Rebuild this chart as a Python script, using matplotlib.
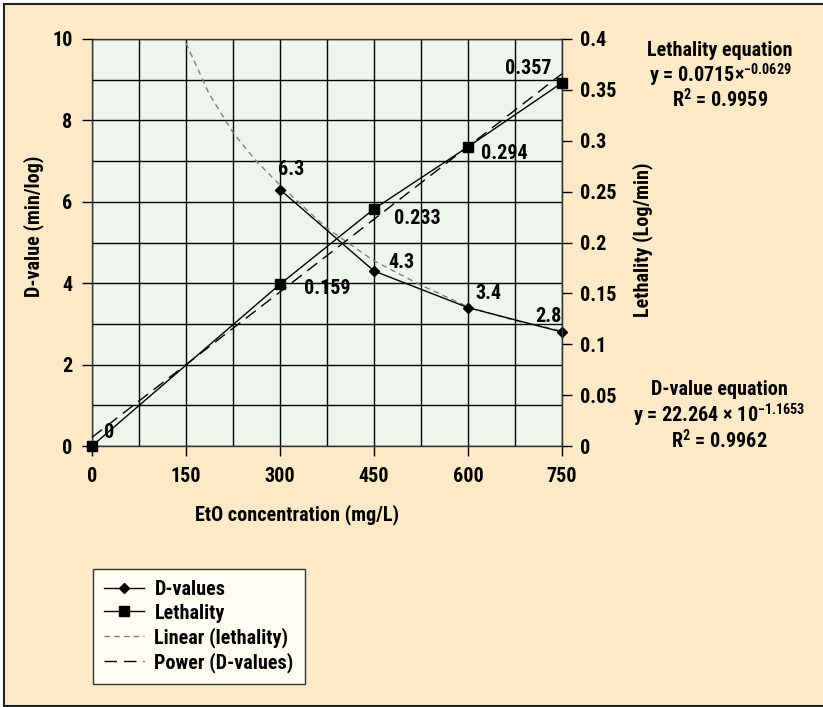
# EtO concentration vs D-value / lethality
import numpy as np
import matplotlib
matplotlib.use('Agg')
import matplotlib.pyplot as plt
from matplotlib.lines import Line2D
from matplotlib.patches import Rectangle

plt.rcParams['font.family'] = ['Roboto Condensed', 'Liberation Sans Narrow', 'Liberation Sans', 'DejaVu Sans']
plt.rcParams['font.weight'] = 'bold'
plt.rcParams['mathtext.fontset'] = 'custom'
plt.rcParams['mathtext.rm'] = 'Roboto Condensed:bold'
plt.rcParams['mathtext.bf'] = 'Roboto Condensed:bold'
plt.rcParams['mathtext.default'] = 'rm'

# data
conc_d = [300, 450, 600, 750]
d_values = [6.3, 4.3, 3.4, 2.8]
d_labels = ['6.3', '4.3', '3.4', '2.8']

conc_leth = [0, 300, 450, 600, 750]
lethality = [0, 0.159, 0.233, 0.294, 0.357]
leth_labels = ['0', '0.159', '0.233', '0.294', '0.357']

# trend curve through D-values
trend_x = [150, 187, 225, 262, 300, 375, 450, 525, 600, 675, 750]
trend_y = [9.9, 8.65, 7.7, 7.0, 6.41, 5.35, 4.55, 3.95, 3.42, 3.08, 2.83]

bg = '#FCE9C7'
plot_bg = '#EEF5EC'
fs = 14.5

W, H = 823, 707
fig = plt.figure(figsize=(W / 100, H / 100), dpi=100, facecolor='white')
fig.patches.append(Rectangle((4 / W, 1.5 / H), 1.2, (H - 5.5) / H, transform=fig.transFigure,
                             facecolor=bg, edgecolor='#222222', linewidth=1.5, zorder=-10))

def px(x, y):
    return x / W, 1 - y / H

l, r, t, b = 92, 562, 39, 446
ax = fig.add_axes([l / W, 1 - b / H, (r - l) / W, (b - t) / H])
ax.set_facecolor(plot_bg)
ax.set_xlim(0, 750)
ax.set_ylim(0, 10)
ax.set_xticks(np.arange(0, 751, 150))
ax.set_xticks(np.arange(0, 751, 75), minor=True)
ax.set_yticks(np.arange(0, 11, 2))
ax.set_yticks(np.arange(0, 11, 1), minor=True)
ax.grid(which='both', color='black', linewidth=1.0)
ax.set_axisbelow(True)
ax.tick_params(which='major', length=7, width=1, labelsize=fs, direction='out')
ax.tick_params(axis='y', pad=7)
ax.tick_params(axis='x', pad=8)
ax.tick_params(which='minor', length=0)
for s in ax.spines.values():
    s.set_color('#333333')
    s.set_linewidth(1.0)

# D-values and trend
ax.plot(trend_x, trend_y, color='#808080', linewidth=1.0, dashes=(4, 3), zorder=3, clip_on=False)
ax.plot(conc_d, d_values, color='black', linewidth=1.0, marker='D', markersize=5.5, zorder=4, clip_on=False)
d_offsets = [(-2, 20), (14, 8), (7, 14), (-27, 16)]
for x, y, lab, off in zip(conc_d, d_values, d_labels, d_offsets):
    ax.annotate(lab, (x, y), xytext=off, textcoords='offset pixels', ha='left', va='center',
                fontsize=fs, fontweight='bold')

# lethality on right axis
ax2 = ax.twinx()
ax2.set_ylim(0, 0.4)
ax2.set_yticks(np.arange(0, 0.401, 0.05))
ax2.set_yticklabels(['0', '0.05', '0.1', '0.15', '0.2', '0.25', '0.3', '0.35', '0.4'])
ax2.tick_params(length=7, width=1, labelsize=fs, pad=6)
for s in ax2.spines.values():
    s.set_visible(False)
ax2.spines['right'].set_visible(True)
ax2.spines['right'].set_color('#333333')

coef = np.polyfit(conc_leth, lethality, 1)
fit_x = np.array([0, 750])
ax2.plot(fit_x, np.polyval(coef, fit_x), color='black', linewidth=1.0, dashes=(9, 5), zorder=3, clip_on=False)
ax2.plot(conc_leth, lethality, color='black', linewidth=1.0, marker='s', markersize=7.5, zorder=4, clip_on=False)
l_offsets = [(12, 13), (24, -4), (20, -10), (13, -7), (-57, 14)]
for x, y, lab, off in zip(conc_leth, lethality, leth_labels, l_offsets):
    ax2.annotate(lab, (x, y), xytext=off, textcoords='offset pixels', ha='left', va='center',
                 fontsize=fs, fontweight='bold')

# axis titles
fig.text(*px(297, 515), 'EtO concentration (mg/L)', ha='center', va='center', fontsize=fs)
fig.text(*px(34, 226), 'D-value (min/log)', ha='center', va='center', rotation=90, fontsize=fs)
fig.text(*px(643, 240), 'Lethality (Log/min)', ha='center', va='center', rotation=90, fontsize=fs)

# equations
fig.text(*px(720, 50), 'Lethality equation', ha='center', va='center', fontsize=fs)
fig.text(*px(720, 75), r'y = 0.0715$\times^{-0.0629}$', ha='center', va='center', fontsize=fs)
fig.text(*px(720, 100), r'R$^{2}$ = 0.9959', ha='center', va='center', fontsize=fs)
fig.text(*px(719, 390), 'D-value equation', ha='center', va='center', fontsize=fs)
fig.text(*px(719, 415), r'y = 22.264 $\times$ 10$^{-1.1653}$', ha='center', va='center', fontsize=fs)
fig.text(*px(719, 441), r'R$^{2}$ = 0.9962', ha='center', va='center', fontsize=fs)

# legend
handles = [
    Line2D([], [], color='black', linewidth=1.0, marker='D', markersize=5),
    Line2D([], [], color='black', linewidth=1.0, marker='s', markersize=7),
    Line2D([], [], color='#808080', linewidth=1.0, dashes=(4, 3)),
    Line2D([], [], color='black', linewidth=1.0, dashes=(9, 5)),
]
labels = ['D-values', 'Lethality', 'Linear (lethality)', 'Power (D-values)']
leg = fig.legend(handles, labels, loc='upper left', bbox_to_anchor=px(93, 569), fancybox=False,
                 framealpha=1, facecolor='#FFFDF2', edgecolor='#333333', fontsize=fs,
                 handlelength=2.0, handletextpad=0.5, labelspacing=0.22, borderpad=0.55,
                 borderaxespad=0)
leg.get_frame().set_linewidth(1.0)

fig.savefig('out.png', dpi=100, facecolor=fig.get_facecolor())
